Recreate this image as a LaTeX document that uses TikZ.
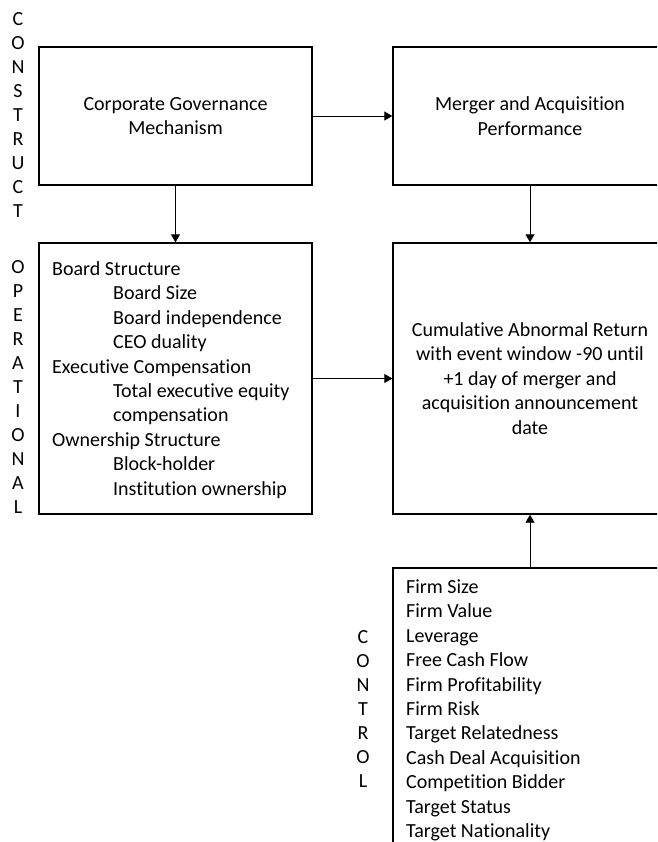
\documentclass[tikz,border=0pt]{standalone}
\usepackage{fontspec}
\setmainfont{Carlito}[Ligatures={NoCommon}]
\usetikzlibrary{arrows.meta}
\begin{document}
\begin{tikzpicture}[x=1pt,y=-1pt,
  box/.style={draw,line width=1.4pt,inner sep=0pt,align=center,
    font=\fontsize{20}{24.4}\selectfont},
  conn/.style={line width=0.9pt,-{Triangle[length=8pt,width=9pt]}},
  listtxt/.style={inner sep=0pt,align=left,anchor=north west,
    font=\fontsize{20}{24.4}\selectfont},
  vert/.style={inner sep=0pt,align=center,
    font=\fontsize{20}{24}\selectfont}]
\useasboundingbox (0,0) rectangle (657,842);
\clip (0,0) rectangle (657,842);

% side labels
\node[vert] (lconstruct) at (18,115.5) {C\\O\\N\\S\\T\\R\\U\\C\\T};
\node[vert] (loper) at (18,387) {O\\P\\E\\R\\A\\T\\I\\O\\N\\A\\L};
\node[vert] (lcontrol) at (363,709) {C\\O\\N\\T\\R\\O\\L};

% boxes
\node[box,minimum width=273pt,minimum height=138pt] (cg) at (175.5,116)
  {Corporate Governance\\Mechanism};
\node[box,minimum width=274pt,minimum height=138pt] (ma) at (530,116)
  {Merger and Acquisition\\Performance};
\node[box,minimum width=273pt,minimum height=271pt] (ops) at (175.5,378.5) {};
\node[box,minimum width=274pt,minimum height=271pt] (car) at (530,378.5)
  {Cumulative Abnormal Return\\with event window -90 until\\+1 day of merger and\\acquisition announcement\\date};
\node[box,minimum width=274pt,minimum height=302pt] (ctrl) at (530,719) {};

% box texts
\node[listtxt] (opstxt) at (52,261.5)
  {Board Structure\\
   \hspace*{61pt}Board Size\\
   \hspace*{61pt}Board independence\\
   \hspace*{61pt}CEO duality\\
   Executive Compensation\\
   \hspace*{61pt}Total executive equity\\
   \hspace*{61pt}compensation\\
   Ownership Structure\\
   \hspace*{61pt}Block-holder\\
   \hspace*{61pt}Institution ownership};
\node[listtxt] (ctrltxt) at (406,579.5)
  {Firm Size\\Firm Value\\Leverage\\Free Cash Flow\\Firm Profitability\\Firm Risk\\Target Relatedness\\Cash Deal Acquisition\\Competition Bidder\\Target Status\\Target Nationality};

% connectors
\draw[conn] (cg.east) -- (ma.west);
\draw[conn] (cg.south) -- (ops.north);
\draw[conn] (ma.south) -- (car.north);
\draw[conn] (ops.east) -- (car.west);
\draw[conn] (ctrl.north) -- (car.south);
\end{tikzpicture}
\end{document}
